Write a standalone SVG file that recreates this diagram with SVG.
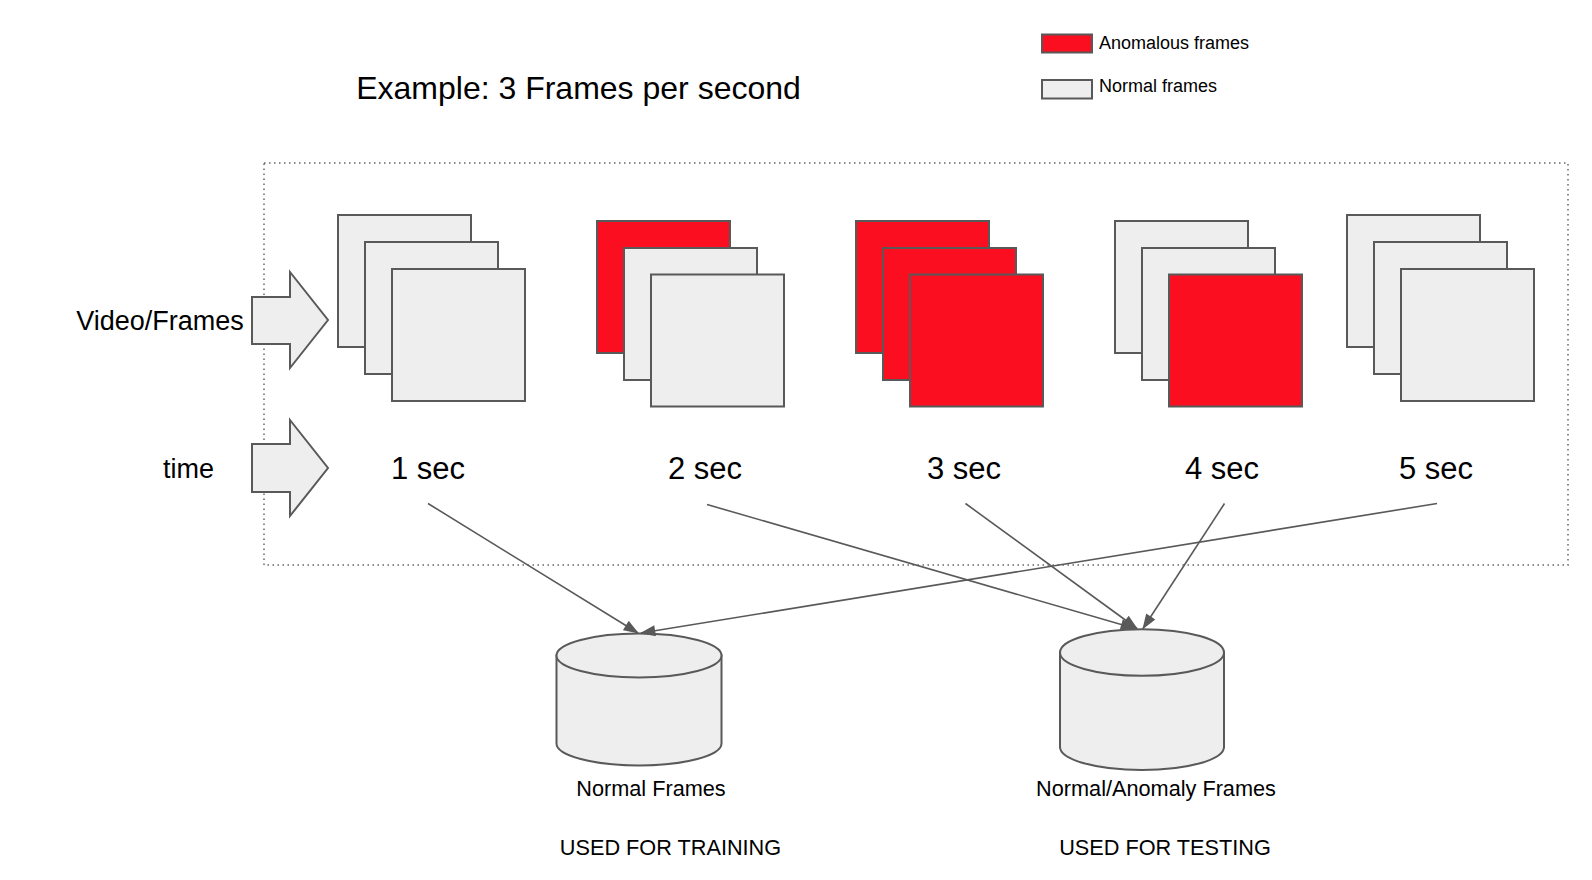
<svg xmlns="http://www.w3.org/2000/svg" width="1592" height="880" viewBox="0 0 1592 880">
<style>
.n{fill:#eeeeee;stroke:#595959;stroke-width:2}
.r{fill:#fb0e1f;stroke:#595959;stroke-width:2}
.t{font-family:"Liberation Sans",Arial,sans-serif;fill:#000}
.c{fill:none;stroke:#595959;stroke-width:1.6}
</style>
<defs>
<marker id="ah2" viewBox="0 0 14 10" refX="13" refY="5" markerWidth="16" markerHeight="11" markerUnits="userSpaceOnUse" orient="auto">
<path d="M0,0 L14,5 L0,10 z" fill="#595959"/>
</marker>
</defs>
<rect width="1592" height="880" fill="#fff"/>

<g id="legend">
<rect class="r" x="1042" y="34.5" width="50" height="18"/>
<text class="t" x="1099" y="49" font-size="18">Anomalous frames</text>
<rect class="n" x="1042" y="80" width="50" height="18.5"/>
<text class="t" x="1099" y="92" font-size="18">Normal frames</text>
</g>

<g id="title"><text class="t" x="578.5" y="99" font-size="32" text-anchor="middle">Example: 3 Frames per second</text></g>

<g id="container"><rect x="264" y="163" width="1304" height="402" fill="none" stroke="#666" stroke-width="1.5" stroke-dasharray="1.5 3.5"/></g>

<g id="arrow-video">
<polygon class="n" points="252,297 290,297 290,272 328,320 290,368 290,344 252,344"/>
<text class="t" x="160" y="330" font-size="27" text-anchor="middle">Video/Frames</text>
</g>
<g id="arrow-time">
<polygon class="n" points="252,444 290,444 290,420 328,468 290,516 290,492 252,492"/>
<text class="t" x="188.5" y="478" font-size="27" text-anchor="middle">time</text>
</g>

<g id="frames-1">
<rect class="n" x="338" y="215" width="133" height="132"/>
<rect class="n" x="365" y="242" width="133" height="132"/>
<rect class="n" x="392" y="269" width="133" height="132"/>
<text class="t" x="428" y="479" font-size="31" text-anchor="middle">1 sec</text>
</g>
<g id="frames-2">
<rect class="r" x="597" y="221" width="133" height="132"/>
<rect class="n" x="624" y="248" width="133" height="132"/>
<rect class="n" x="651" y="274.5" width="133" height="132"/>
<text class="t" x="705" y="479" font-size="31" text-anchor="middle">2 sec</text>
</g>
<g id="frames-3">
<rect class="r" x="856" y="221" width="133" height="132"/>
<rect class="r" x="883" y="248" width="133" height="132"/>
<rect class="r" x="910" y="274.5" width="133" height="132"/>
<text class="t" x="964" y="479" font-size="31" text-anchor="middle">3 sec</text>
</g>
<g id="frames-4">
<rect class="n" x="1115" y="221" width="133" height="132"/>
<rect class="n" x="1142" y="248" width="133" height="132"/>
<rect class="r" x="1169" y="274.5" width="133" height="132"/>
<text class="t" x="1222" y="479" font-size="31" text-anchor="middle">4 sec</text>
</g>
<g id="frames-5">
<rect class="n" x="1347" y="215" width="133" height="132"/>
<rect class="n" x="1374" y="242" width="133" height="132"/>
<rect class="n" x="1401" y="269" width="133" height="132"/>
<text class="t" x="1436" y="479" font-size="31" text-anchor="middle">5 sec</text>
</g>

<g id="db-training">
<path class="n" d="M556.5,655.5 L556.5,743.5 A82.5,22 0 0 0 721.5,743.5 L721.5,655.5 Z"/>
<ellipse class="n" cx="639" cy="655.5" rx="82.5" ry="22"/>
<text class="t" x="651" y="796" font-size="21.7" text-anchor="middle">Normal Frames</text>
<text class="t" x="670.5" y="855" font-size="21.7" text-anchor="middle">USED FOR TRAINING</text>
</g>
<g id="db-testing">
<path class="n" d="M1060,652.5 L1060,747 A82,23 0 0 0 1224,747 L1224,652.5 Z"/>
<ellipse class="n" cx="1142" cy="652.5" rx="82" ry="23.3"/>
<text class="t" x="1156" y="796" font-size="21.7" text-anchor="middle">Normal/Anomaly Frames</text>
<text class="t" x="1165" y="855" font-size="21.7" text-anchor="middle">USED FOR TESTING</text>
</g>

<g id="connectors">
<line class="c" x1="428" y1="503.5" x2="638" y2="633" marker-end="url(#ah2)"/>
<line class="c" x1="1437" y1="503.5" x2="641" y2="633" marker-end="url(#ah2)"/>
<line class="c" x1="707" y1="504.5" x2="1135" y2="628.5" marker-end="url(#ah2)"/>
<line class="c" x1="965.5" y1="503.5" x2="1137" y2="628.5" marker-end="url(#ah2)"/>
<line class="c" x1="1224.5" y1="503.5" x2="1143" y2="628.5" marker-end="url(#ah2)"/>
</g>
</svg>
